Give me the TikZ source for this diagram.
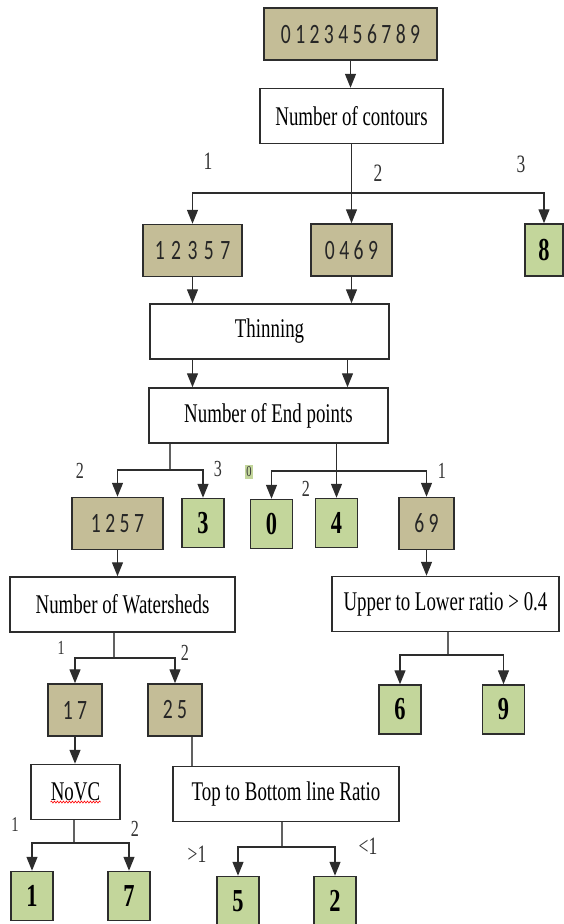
\documentclass[tikz,border=0pt]{standalone}
\usepackage{fontspec}
\setmainfont{Liberation Serif}[FakeStretch=0.7]
\newfontfamily\digitfont{Carlito}[FakeStretch=0.7]
\usetikzlibrary{arrows.meta,positioning,decorations.pathmorphing}
\definecolor{dtan}{RGB}{196,189,151}
\definecolor{dgreen}{RGB}{195,214,155}
\definecolor{dline}{RGB}{45,45,45}
\tikzset{
  setbox/.style={draw=dline, line width=1.5pt, fill=dtan, text=black!85,
                 font=\digitfont\fontsize{28}{28}\selectfont,
                 minimum width=#1, minimum height=52pt, inner sep=0pt},
  leaf/.style={draw=dline, line width=1.5pt, fill=dgreen,
               font=\fontsize{32}{32}\selectfont\bfseries,
               minimum width=42pt, minimum height=49pt, inner sep=0pt},
  qbox/.style={draw=dline, line width=1.5pt, fill=white,
               font=\fontsize{27}{27}\selectfont,
               minimum width=#1, minimum height=55pt, inner sep=0pt},
  blab/.style={font=\fontsize{23}{23}\selectfont, text=black!80, inner sep=0pt},
  arr/.style={draw=dline, line width=1.4pt, -{Triangle[length=14pt,width=11pt]}},
  stub/.style={draw=dline!75, line width=1.4pt},
}
\begin{document}
\begin{tikzpicture}[x=1pt, y=-1pt]
\useasboundingbox (0,0) rectangle (564,924);
% Top: all digits and the first test
\node[setbox=173pt] (all) at (350.5,34) {0 1 2 3 4 5 6 7 8 9};
\node[qbox=183pt] (contours) at (351.5,116) {Number of contours};

\node[setbox=99pt] (g12357) at (192.5,250.5) {1 \kern2pt2 \kern2pt3 \kern2pt5 \kern2pt7};
\node[setbox=81pt] (g0469) at (351.5,250) {0 4 6 9};
\node[leaf, minimum width=38pt, minimum height=52pt] (l8) at (544,250) {8};

% Middle: thinning and end points
\node[qbox=239pt] (thin) at (269.5,331.5) {Thinning};
\node[qbox=239pt] (nep) at (268.5,415.5) {Number of End points};

\node[setbox=91pt] (g1257) at (117.5,523.5) {1 2 5 7};
\node[leaf] (l3) at (203,523) {3};
\node[leaf] (l0) at (271.5,524) {0};
\node[leaf] (l4) at (336.5,523) {4};
\node[setbox=55pt] (g69) at (426.5,523.5) {6 9};

\node[qbox=225pt] (now) at (122.5,604.5) {Number of Watersheds};
\node[qbox=227pt] (upper) at (445.5,604) {Upper to Lower ratio > 0.4};

\node[setbox=54pt] (g17) at (75,710) {1 7};
\node[setbox=54pt] (g25) at (175,710) {2 5};
\node[leaf] (l6) at (400,709.5) {6};
\node[leaf] (l9) at (503.5,709.5) {9};

% Bottom: last tests
\node[qbox=89pt] (novc) at (75.5,792) {NoVC};
\node[qbox=226pt] (tbr) at (286,794) {Top to Bottom line Ratio};

\node[leaf] (l1) at (32,896) {1};
\node[leaf] (l7) at (129,896) {7};
\node[leaf] (l5) at (238,901) {5};
\node[leaf] (l2) at (335,901) {2};

\draw[red, line width=0.6pt, decorate, decoration={snake, amplitude=1pt, segment length=3pt}]
  ([xshift=-25pt, yshift=-10pt]novc.center) -- ([xshift=25pt, yshift=-10pt]novc.center);

% junctions
\coordinate (j1) at (351.5,193);
\coordinate (j2) at (170,470);
\coordinate (j3) at (336.5,471);
\coordinate (j4) at (448,655);
\coordinate (j5) at (114,658);
\coordinate (j6) at (74,843);
\coordinate (j7) at (282,847);

% connectors
\draw[arr] (all.south) -- (all.south |- contours.north);
\draw[arr] (contours.south) -- (g0469.north);
\draw[arr] (j1) -| (g12357.north);
\draw[arr] (j1) -| (l8.north);
\draw[arr] (g12357.south) -- (g12357.south |- thin.north);
\draw[arr] (g0469.south) -- (g0469.south |- thin.north);
\draw[arr] (thin.south -| g12357) -- (nep.north -| g12357);
\draw[arr] ([xshift=-4pt]thin.south -| g0469) -- ([xshift=-4pt]nep.north -| g0469);

\draw[stub] (nep.south -| j2) -- (j2);
\draw[arr] (j2) -| (g1257.north);
\draw[arr] (j2) -| (l3.north);
\draw[arr] (nep.south -| l4) -- (l4.north);
\draw[arr] (j3) -| (l0.north);
\draw[arr] (j3) -| (g69.north);

\draw[arr] (g69.south) -- (g69.south |- upper.north);
\draw[stub] (upper.south -| j4) -- (j4);
\draw[arr] (j4) -| (l6.north);
\draw[arr] (j4) -| (l9.north);

\draw[arr] (g1257.south) -- (g1257.south |- now.north);
\draw[stub] (now.south -| j5) -- (j5);
\draw[arr] (j5) -| (g17.north);
\draw[arr] (j5) -| (g25.north);

\draw[arr] (g17.south) -- (g17.south |- novc.north);
\draw[stub] ([xshift=17pt]g25.south) -- ([xshift=17pt]g25.south |- tbr.north);
\draw[stub] (novc.south -| j6) -- (j6);
\draw[arr] (j6) -| (l1.north);
\draw[arr] (j6) -| (l7.north);
\draw[stub] (tbr.south -| j7) -- (j7);
\draw[arr] (j7) -| (l5.north);
\draw[arr] (j7) -| (l2.north);

% branch labels
\node[blab, font=\fontsize{25}{25}\selectfont] (c1) at (208,161) {1};
\node[blab, font=\fontsize{25}{25}\selectfont] (c2) at (378,173) {2};
\node[blab, font=\fontsize{25}{25}\selectfont] (c3) at (521,164) {3};
\node[blab] (e2) at (80,471) {2};
\node[blab] (e3) at (218,469) {3};
\node[blab, fill=dgreen, font=\fontsize{15}{15}\selectfont, inner sep=1.5pt] (e0) at (249,472) {0};
\node[blab] (e2b) at (306,489) {2};
\node[blab] (e1) at (442,471) {1};
\node[blab, font=\fontsize{20}{20}\selectfont] (w1) at (61,648) {1};
\node[blab] (w2) at (185,653) {2};
\node[blab, font=\fontsize{21}{21}\selectfont] (v1) at (15,825) {1};
\node[blab] (v2) at (135,829) {2};
\node[blab, font=\fontsize{25}{25}\selectfont] (r1) at (197,854) {>1};
\node[blab, font=\fontsize{25}{25}\selectfont] (r2) at (368,846) {<1};
\end{tikzpicture}
\end{document}
